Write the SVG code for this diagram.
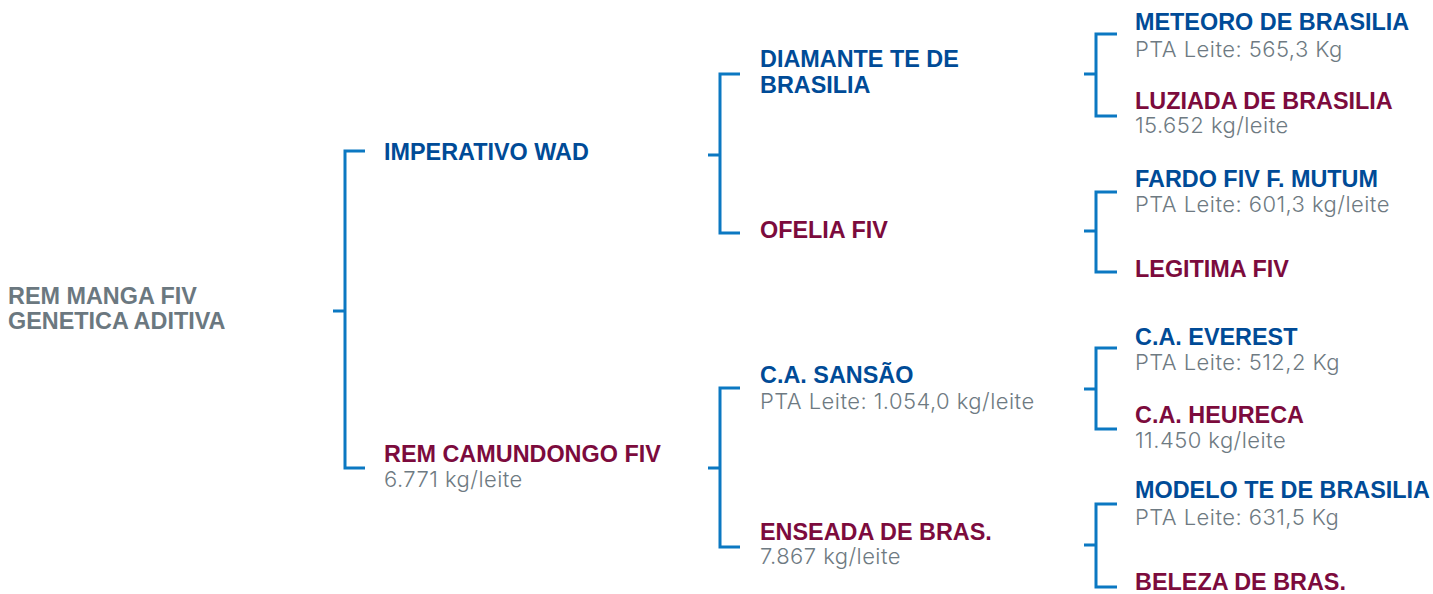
<svg xmlns="http://www.w3.org/2000/svg" width="1433" height="594" viewBox="0 0 1433 594">
<style>
.b{fill:none;stroke:#0b78c2;stroke-width:3}
.n{font-family:"Liberation Sans",Arial,sans-serif;font-weight:700;font-size:23.4px}
.m{fill:#004b97}
.f{fill:#7c0b3d}
.r{fill:#6b7880}
.s{font-family:Inter,"Noto Sans",sans-serif;font-weight:300;font-size:22px;letter-spacing:0.45px;fill:#6e7a82}
</style>
<rect width="1433" height="594" fill="#ffffff"/>
<g id="connectors">
<path class="b" d="M333 311H345M365 151H345V468H365"/>
<path class="b" d="M708 155H720M740 74H720V233H740"/>
<path class="b" d="M708 468H720M740 388H720V547H740"/>
<path class="b" d="M1084 74H1096M1117 34H1096V116H1117"/>
<path class="b" d="M1084 231H1096M1117 192H1096V272H1117"/>
<path class="b" d="M1084 389H1096M1117 348H1096V429H1117"/>
<path class="b" d="M1084 545H1096M1117 504H1096V587H1117"/>
</g>
<g id="root"><text class="n r" x="8" y="304">REM MANGA FIV</text><text class="n r" x="8" y="329">GENETICA ADITIVA</text></g>
<g id="imperativo"><text class="n m" x="384" y="160">IMPERATIVO WAD</text></g>
<g id="camundongo"><text class="n f" x="384" y="462">REM CAMUNDONGO FIV</text><text class="s" x="384" y="487">6.771 kg/leite</text></g>
<g id="diamante"><text class="n m" x="760" y="67">DIAMANTE TE DE</text><text class="n m" x="760" y="93">BRASILIA</text></g>
<g id="ofelia"><text class="n f" x="760" y="238">OFELIA FIV</text></g>
<g id="sansao"><text class="n m" x="760" y="383">C.A. SANSÃO</text><text class="s" x="760" y="409">PTA Leite: 1.054,0 kg/leite</text></g>
<g id="enseada"><text class="n f" x="760" y="540">ENSEADA DE BRAS.</text><text class="s" x="760" y="564">7.867 kg/leite</text></g>
<g id="meteoro"><text class="n m" x="1135" y="30">METEORO DE BRASILIA</text><text class="s" x="1135" y="57">PTA Leite: 565,3 Kg</text></g>
<g id="luziada"><text class="n f" x="1135" y="109">LUZIADA DE BRASILIA</text><text class="s" x="1135" y="133">15.652 kg/leite</text></g>
<g id="fardo"><text class="n m" x="1135" y="187">FARDO FIV F. MUTUM</text><text class="s" x="1135" y="212">PTA Leite: 601,3 kg/leite</text></g>
<g id="legitima"><text class="n f" x="1135" y="277">LEGITIMA FIV</text></g>
<g id="everest"><text class="n m" x="1135" y="345">C.A. EVEREST</text><text class="s" x="1135" y="370">PTA Leite: 512,2 Kg</text></g>
<g id="heureca"><text class="n f" x="1135" y="423">C.A. HEURECA</text><text class="s" x="1135" y="448">11.450 kg/leite</text></g>
<g id="modelo"><text class="n m" x="1135" y="498">MODELO TE DE BRASILIA</text><text class="s" x="1135" y="525">PTA Leite: 631,5 Kg</text></g>
<g id="beleza"><text class="n f" x="1135" y="590">BELEZA DE BRAS.</text></g>
</svg>
